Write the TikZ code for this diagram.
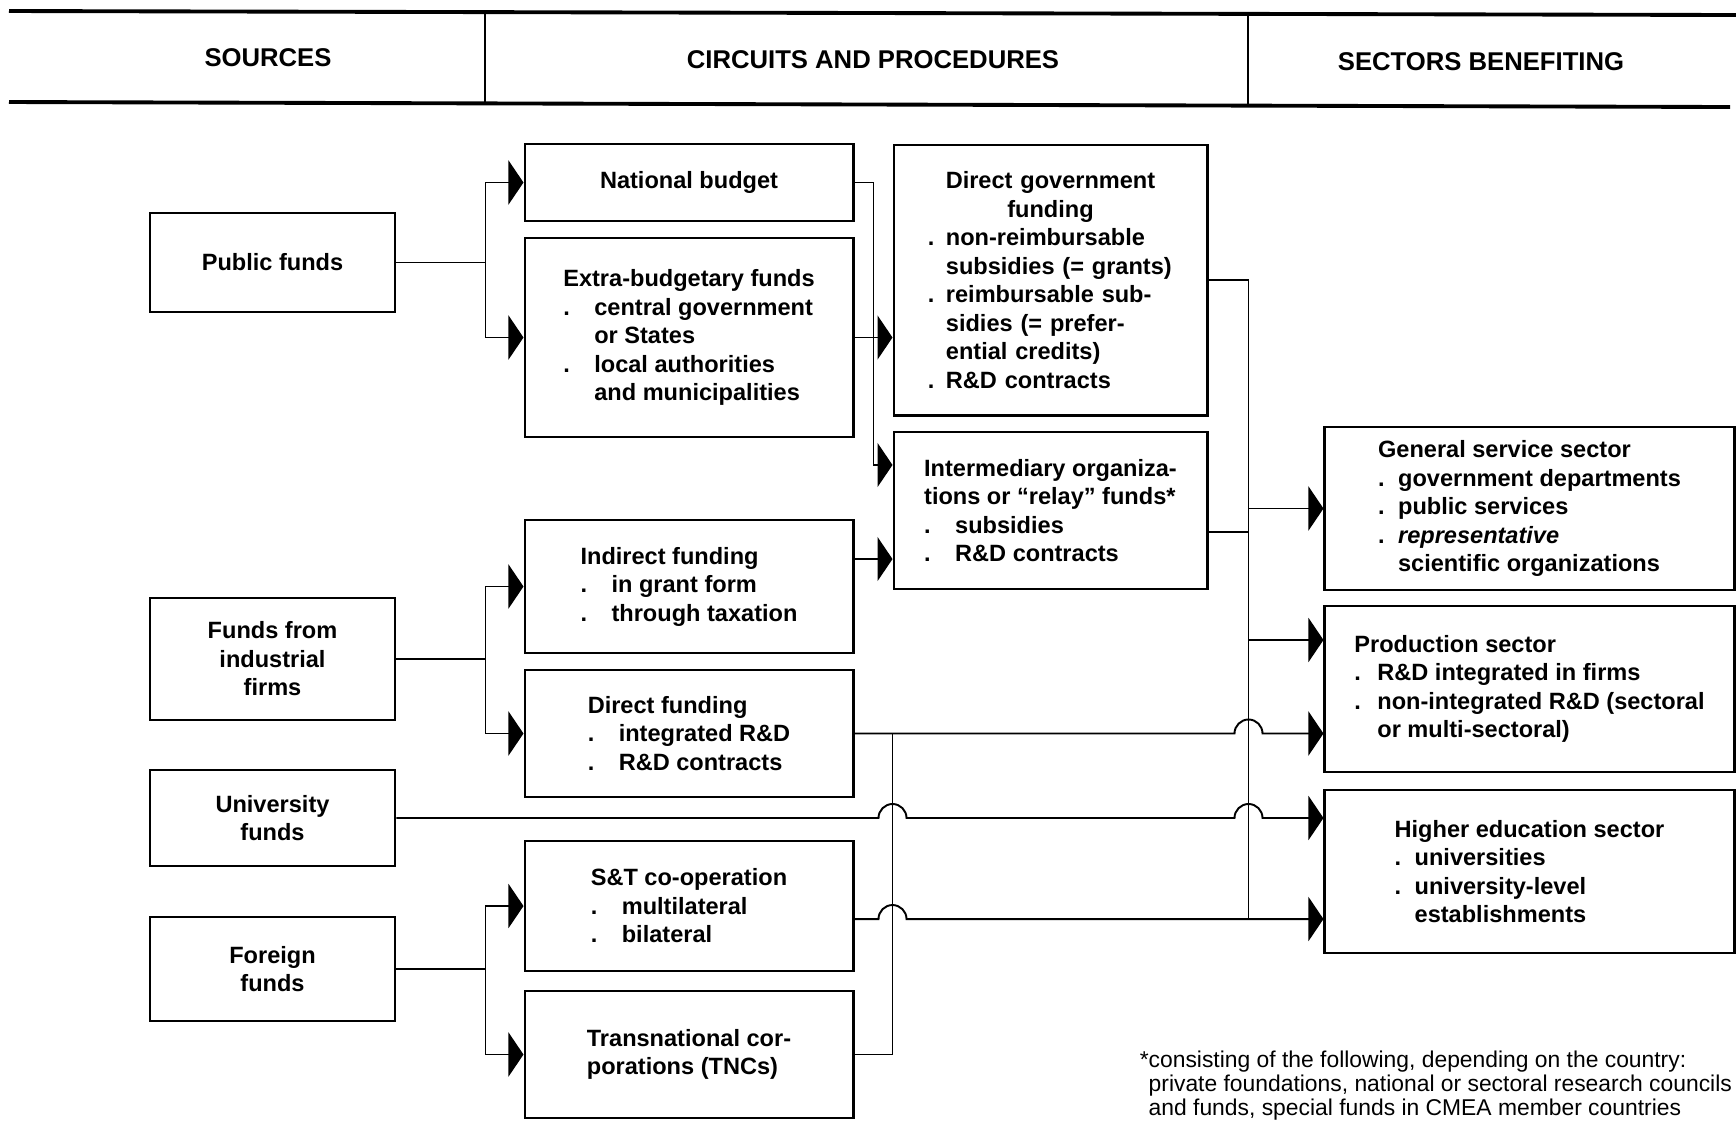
\documentclass[tikz,border=0pt]{standalone}
\usepackage{fontspec}
\setmainfont{Liberation Sans}
\usepackage{tikz}
\usetikzlibrary{arrows.meta,calc}
\setlength{\parindent}{0pt}
\tikzstyle{box} = [draw, line width=0.8pt, inner sep=0pt, font=\bfseries\fontsize{6.7}{8.1}\selectfont]
\tikzstyle{src} = [box, minimum width=2.45cm, align=center]
\tikzstyle{mid} = [box, minimum width=3.28cm, align=left]
\tikzstyle{gov} = [box, minimum width=3.13cm, align=left]
\tikzstyle{sect} = [box, minimum width=4.09cm, align=left]
\tikzstyle{link} = [line width=0.55pt]
\tikzstyle{flow} = [link, -{Triangle[length=0.15cm, width=0.44cm]}]
\tikzstyle{headtext} = [font=\bfseries\fontsize{7.3}{8.5}\selectfont]
\tikzstyle{hrule} = [line width=1.1pt]
\tikzstyle{fnote} = [inner sep=0pt, align=left, font=\fontsize{6.5}{6.9}\selectfont]
\newcommand{\bul}[1][0.31cm]{\makebox[#1][l]{.}}
\newcommand{\cont}[1][0.31cm]{\hspace*{#1}}

\begin{document}
\begin{tikzpicture}[x=0.01cm, y=-0.01cm]
	\useasboundingbox (0,0) rectangle (1736,1123);
	% header
	\draw[hrule] (9,11) -- (1736,15);
	\draw[hrule] (9,102) -- (1730,107);
	\draw[line width=0.45pt] (485,11) -- (485,103);
	\draw[line width=0.45pt] (1248,13) -- (1248,105);
	\node[headtext] (hsrc) at (268,58) {SOURCES};
	\node[headtext] (hcirc) at (873,60) {CIRCUITS AND PROCEDURES};
	\node[headtext] (hsect) at (1481,62) {SECTORS BENEFITING};
	% sources
	\node[src, minimum height=0.99cm] (pub) at (272.5,262.5) {Public funds};
	\node[src, minimum height=1.22cm] (firms) at (272.5,659) {Funds from\\industrial\\firms};
	\node[src, minimum height=0.96cm] (univ) at (272.5,818) {University\\funds};
	\node[src, minimum height=1.04cm] (foreign) at (272.5,969) {Foreign\\funds};
	% circuits
	\node[mid, minimum height=0.77cm] (nat) at (689,182.5) {National budget};
	\node[mid, minimum height=1.99cm] (extra) at (689,337.5) {Extra-budgetary funds\\\bul central government\\\cont or States\\\bul local authorities\\\cont and municipalities};
	\node[mid, minimum height=1.33cm] (ind) at (689,586.5) {Indirect funding\\\bul in grant form\\\bul through taxation};
	\node[mid, minimum height=1.27cm] (dfund) at (689,733.5) {Direct funding\\\bul integrated R\&D\\\bul R\&D contracts};
	\node[mid, minimum height=1.30cm] (st) at (689,906) {S\&T co-operation\\\bul multilateral\\\bul bilateral};
	\node[mid, minimum height=1.27cm] (tnc) at (689,1054.5) {Transnational cor-\\porations (TNCs)};
	\node[gov, minimum height=2.70cm, text width=2.45cm] (dgov) at (1050.5,280) {{\centering Direct government\\funding\par}\bul[0.18cm]non-reimbursable\\\cont[0.18cm]subsidies (= grants)\\\bul[0.18cm]reimbursable sub-\\\cont[0.18cm]sidies (= prefer-\\\cont[0.18cm]ential credits)\\\bul[0.18cm]R\&D contracts};
	\node[gov, minimum height=1.57cm] (inter) at (1050.5,510.5) {Intermediary organiza-\\tions or “relay” funds*\\\bul subsidies\\\bul R\&D contracts};
	% sectors
	\node[sect, minimum height=1.63cm] (gen) at (1529.5,508.5) {General service sector\\\bul[0.2cm]government departments\\\bul[0.2cm]public services\\\bul[0.2cm]\textit{representative}\\\cont[0.2cm]scientific organizations};
	\node[sect, minimum height=1.66cm] (prod) at (1529.5,689) {Production sector\\\bul[0.23cm]R\&D integrated in firms\\\bul[0.23cm]non-integrated R\&D (sectoral\\\cont[0.23cm]or multi-sectoral)};
	\node[sect, minimum height=1.63cm] (higher) at (1529.5,871.5) {Higher education sector\\\bul[0.2cm]universities\\\bul[0.2cm]university-level\\\cont[0.2cm]establishments};
	\node[fnote, anchor=north west] (fn) at (1148,1050) {\llap{*}consisting of the following, depending on the country:\\private foundations, national or sectoral research councils\\and funds, special funds in CMEA member countries};
	% sources to circuits
	\draw[link] (pub.east) -- ++(89,0) coordinate (pj);
	\draw[flow] (pj) |- (nat.west);
	\draw[flow] (pj) |- (extra.west);
	\draw[link] (firms.east) -- ++(89,0) coordinate (fj);
	\draw[flow] (fj) |- (ind.west);
	\draw[flow] (fj) |- (dfund.west);
	\draw[link] (foreign.east) -- ++(89,0) coordinate (oj);
	\draw[flow] (oj) |- (st.west);
	\draw[flow] (oj) |- (tnc.west);
	% circuits to channels
	\coordinate (interA) at ([yshift=0.455cm]inter.west);
	\coordinate (interB) at ([yshift=-0.485cm]inter.west);
	\coordinate (interC) at ([yshift=-0.215cm]inter.east);
	\draw[flow] (nat.east) -- ++(19,0) |- (interA);
	\draw[flow] (extra.east) -- (dgov.west |- extra.east);
	\draw[flow] (ind.east |- interB) -- (interB);
	% bus to sectors
	\draw[link] (dgov.east) -- ++(40,0) coordinate (bus);
	\coordinate (prodA) at ([yshift=0.49cm]prod.west);
	\coordinate (hiB) at ([yshift=-0.475cm]higher.west);
	\draw[link] (bus) -- (bus |- hiB);
	\draw[link] (interC) -- (bus |- interC);
	\draw[flow] (bus |- gen.west) -- (gen.west);
	\draw[flow] (bus |- prodA) -- (prodA);
	% lines that hop
	\draw[link] (tnc.east) -- ++(38,0) coordinate (tj);
	\draw[link] (tj) -- (tj |- dfund.east);
	\draw[flow] (dfund.east) -- ($(bus |- dfund.east)+(-14,0)$) arc[start angle=180, end angle=0, radius=0.14cm] -- (prod.west |- dfund.east);
	\draw[flow] (univ.east) -- ($(tj |- univ.east)+(-14,0)$) arc[start angle=180, end angle=0, radius=0.14cm] -- ($(bus |- univ.east)+(-14,0)$) arc[start angle=180, end angle=0, radius=0.14cm] -- (higher.west |- univ.east);
	\draw[flow] (st.east |- hiB) -- ($(tj |- hiB)+(-14,0)$) arc[start angle=180, end angle=0, radius=0.14cm] -- (hiB);
\end{tikzpicture}
\end{document}
